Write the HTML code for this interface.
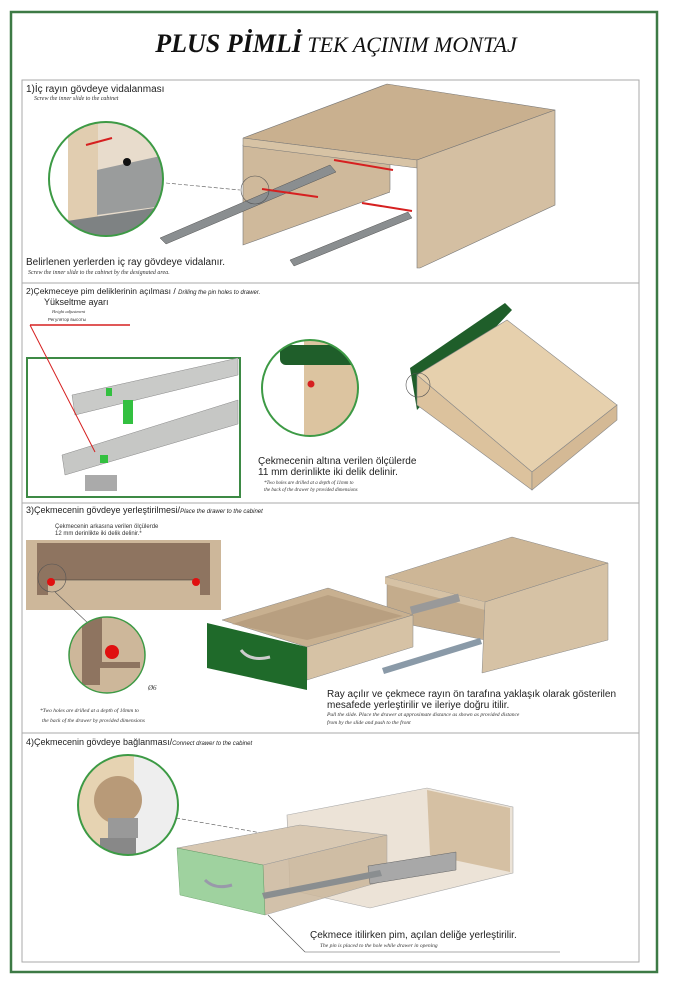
<!DOCTYPE html>
<html><head><meta charset="utf-8"><style>
body{margin:0;background:#fff;}
svg{display:block;font-family:"Liberation Sans",sans-serif;}
.it{font-family:"Liberation Serif",serif;font-style:italic;}
</style></head><body>
<svg width="673" height="1000" viewBox="0 0 673 1000">
<defs><clipPath id="c1"><circle cx="106" cy="179" r="57"/></clipPath>
<clipPath id="c2"><circle cx="310" cy="388" r="48"/></clipPath>
<clipPath id="c3"><circle cx="107" cy="655" r="38"/></clipPath>
<clipPath id="c4"><circle cx="128" cy="805" r="50"/></clipPath></defs>
<rect x="11" y="12" width="646" height="960" fill="none" stroke="#3d7a45" stroke-width="2.5"/>
<text x="336" y="52" text-anchor="middle" font-family="Liberation Serif" font-style="italic" font-size="26" fill="#111"><tspan font-weight="bold">PLUS PİMLİ</tspan><tspan font-size="22"> TEK AÇINIM MONTAJ</tspan></text>
<rect x="22" y="80" width="617" height="882" fill="none" stroke="#aaa" stroke-width="1"/>
<line x1="22" y1="283" x2="639" y2="283" stroke="#aaa"/>
<line x1="22" y1="503" x2="639" y2="503" stroke="#aaa"/>
<line x1="22" y1="733" x2="639" y2="733" stroke="#aaa"/>

<!-- Section 1 -->
<text x="26" y="92" font-size="10" fill="#222">1)İç rayın gövdeye vidalanması</text>
<text x="34" y="100" font-size="6" class="it" fill="#333">Screw the inner slide to the cabinet</text>
<polygon points="243,145 390,95 390,192 243,245" fill="#cfb99b" stroke="#777" stroke-width="0.6"/>
<polygon points="390,190 420,185 420,205 390,200" fill="#fff"/>
<polygon points="243,138 387,84 555,110 417,160" fill="#c9b08f" stroke="#777" stroke-width="0.6"/>
<polygon points="243,138 417,160 417,168 243,146" fill="#d7c3a5" stroke="#777" stroke-width="0.5"/>
<polygon points="417,160 555,110 555,205 420,268 417,268" fill="#d4bfa2" stroke="#777" stroke-width="0.6"/>
<polygon points="160,238 330,165 336,172 166,244" fill="#8a8e90" stroke="#555" stroke-width="0.5"/>
<polygon points="290,260 408,212 412,218 294,266" fill="#8a8e90" stroke="#555" stroke-width="0.5"/>
<line x1="334" y1="160" x2="393" y2="170" stroke="#d62020" stroke-width="2"/>
<line x1="262" y1="189" x2="318" y2="197" stroke="#d62020" stroke-width="2"/>
<line x1="362" y1="203" x2="412" y2="211" stroke="#d62020" stroke-width="2"/>
<circle cx="255" cy="190" r="14" fill="none" stroke="#555" stroke-width="0.6"/>
<line x1="166" y1="183" x2="240" y2="190" stroke="#555" stroke-width="0.6" stroke-dasharray="4,2"/>
<g clip-path="url(#c1)">
<rect x="40" y="115" width="140" height="130" fill="#fff"/>
<rect x="68" y="115" width="30" height="130" fill="#e1cdb0"/>
<rect x="98" y="115" width="80" height="130" fill="#e8dccc"/>
<polygon points="97,170 165,155 170,205 97,215" fill="#9a9c9c"/>
<polygon points="40,225 175,205 175,245 40,245" fill="#7e8283"/>
<circle cx="127" cy="162" r="4" fill="#111"/>
</g>
<circle cx="106" cy="179" r="57" fill="none" stroke="#3d9a45" stroke-width="2"/>
<line x1="86" y1="145" x2="112" y2="138" stroke="#d62020" stroke-width="2"/>
<text x="26" y="265" font-size="10" fill="#222">Belirlenen yerlerden iç ray gövdeye vidalanır.</text>
<text x="28" y="274" font-size="6" class="it" fill="#333">Screw the inner slide to the cabinet by the designated area.</text>

<!-- Section 2 -->
<text x="26" y="294" font-size="8.5" fill="#222">2)Çekmeceye pim deliklerinin açılması / <tspan font-size="6" font-style="italic">Drilling the pin holes to drawer.</tspan></text>
<text x="44" y="305" font-size="9" fill="#222">Yükseltme ayarı</text>
<text x="52" y="313" font-size="4.5" class="it" fill="#333">Height adjustment</text>
<text x="48" y="321" font-size="4.5" fill="#333">Регулятор высоты</text>
<rect x="27" y="358" width="213" height="139" fill="#fff" stroke="#3d8a45" stroke-width="2"/>
<polygon points="72,395 238,358 238,375 75,415" fill="#c9cac8" stroke="#888" stroke-width="0.5"/>
<polygon points="62,455 238,400 238,424 65,475" fill="#c6c7c5" stroke="#888" stroke-width="0.5"/>
<rect x="123" y="400" width="10" height="24" fill="#33c040"/>
<rect x="106" y="388" width="6" height="8" fill="#33c040"/>
<rect x="100" y="455" width="8" height="8" fill="#33c040"/>
<rect x="85" y="475" width="32" height="16" fill="#aaa"/>
<line x1="30" y1="325" x2="130" y2="325" stroke="#d62020" stroke-width="1.5"/>
<line x1="30" y1="325" x2="95" y2="452" stroke="#d62020" stroke-width="1"/>
<g clip-path="url(#c2)">
<rect x="260" y="340" width="100" height="100" fill="#fff"/>
<rect x="304" y="340" width="60" height="100" fill="#dcc4a0"/>
<rect x="280" y="345" width="80" height="20" rx="6" fill="#1f5e2a"/>
</g>
<circle cx="310" cy="388" r="48" fill="none" stroke="#3d9a45" stroke-width="2"/>
<circle cx="311" cy="384" r="3.5" fill="#d62020"/>
<polygon points="410,368 505,303 512,310 417,410" fill="#1f5e2a"/>
<polygon points="417,375 507,320 617,405 532,472" fill="#e6d0ad" stroke="#888" stroke-width="0.6"/>
<polygon points="417,375 532,472 532,490 417,405" fill="#dcc29d" stroke="#888" stroke-width="0.6"/>
<polygon points="532,472 617,405 617,420 532,490" fill="#d4b995" stroke="#888" stroke-width="0.6"/>
<circle cx="418" cy="385" r="12" fill="none" stroke="#555" stroke-width="0.6"/>
<text x="258" y="464" font-size="10" fill="#222">Çekmecenin altına verilen ölçülerde</text>
<text x="258" y="475" font-size="10" fill="#222">11 mm derinlikte iki delik delinir.</text>
<text x="264" y="484" font-size="5" class="it" fill="#333">*Two holes are drilled at a depth of 11mm to</text>
<text x="264" y="491" font-size="5" class="it" fill="#333">the back of the drawer by provided dimensions</text>

<!-- Section 3 -->
<text x="26" y="513" font-size="9" fill="#222">3)Çekmecenin gövdeye yerleştirilmesi/<tspan font-size="6" font-style="italic">Place the drawer to the cabinet</tspan></text>
<text x="55" y="528" font-size="6" fill="#333">Çekmecenin arkasına verilen ölçülerde</text>
<text x="55" y="535" font-size="6" fill="#333">12 mm derinlikte iki delik delinir.*</text>
<rect x="26" y="540" width="195" height="70" fill="#cdb79a"/>
<polygon points="37,543 210,543 210,595 200,595 200,580 48,580 48,595 37,595" fill="#8e7460"/>
<line x1="48" y1="580" x2="200" y2="580" stroke="#333" stroke-width="0.6"/>
<circle cx="51" cy="582" r="4" fill="#e01010"/>
<circle cx="196" cy="582" r="4" fill="#e01010"/>
<circle cx="52" cy="578" r="14" fill="none" stroke="#555" stroke-width="0.6"/>
<line x1="55" y1="592" x2="90" y2="625" stroke="#555" stroke-width="0.6"/>
<g clip-path="url(#c3)">
<rect x="65" y="615" width="85" height="80" fill="#cdb79a"/>
<polygon points="82,615 102,615 102,662 140,662 140,668 100,668 100,685 82,685" fill="#8e7460"/>
</g>
<circle cx="107" cy="655" r="38" fill="none" stroke="#3d9a45" stroke-width="1.5"/>
<circle cx="112" cy="652" r="7" fill="#e01010"/>
<text x="148" y="690" font-size="7" class="it" fill="#333">Ø6</text>
<text x="40" y="712" font-size="5.5" class="it" fill="#333">*Two holes are drilled at a depth of 10mm to</text>
<text x="42" y="722" font-size="5.5" class="it" fill="#333">the back of the drawer by provided dimensions</text>
<polygon points="387,580 485,605 485,640 387,620" fill="#c4ac8c" stroke="#888" stroke-width="0.5"/>
<polygon points="385,577 512,537 608,563 485,602" fill="#cdb696" stroke="#888" stroke-width="0.5"/>
<polygon points="385,577 485,602 485,610 385,584" fill="#d6c2a5"/>
<polygon points="485,602 608,563 608,640 482,673" fill="#d6c2a5" stroke="#888" stroke-width="0.5"/>
<rect x="410" y="600" width="50" height="8" fill="#999" transform="rotate(-15 435 604)"/>
<polygon points="222,620 328,588 413,615 307,647" fill="#c8b090" stroke="#888" stroke-width="0.5"/>
<polygon points="232,624 328,595 403,616 307,640" fill="#b89f80"/>
<polygon points="307,647 413,615 413,647 307,680" fill="#d6c2a5" stroke="#888" stroke-width="0.5"/>
<polygon points="207,623 307,647 307,690 207,668" fill="#1f6a2a"/>
<path d="M241,650 Q250,662 270,657" fill="none" stroke="#ccc" stroke-width="3"/>
<polygon points="382,668 480,638 482,644 384,674" fill="#8a9aa8"/>
<text x="327" y="697" font-size="10" fill="#222">Ray açılır ve çekmece rayın ön tarafına yaklaşık olarak gösterilen</text>
<text x="327" y="708" font-size="10" fill="#222">mesafede yerleştirilir ve ileriye doğru itilir.</text>
<text x="327" y="716" font-size="5.5" class="it" fill="#333">Pull the slide. Place the drawer at approximate distance as shown as provided distance</text>
<text x="327" y="724" font-size="5.5" class="it" fill="#333">from by the slide and push to the front</text>

<!-- Section 4 -->
<text x="26" y="745" font-size="9" fill="#222">4)Çekmecenin gövdeye bağlanması/<tspan font-size="6" font-style="italic">Connect drawer to the cabinet</tspan></text>
<g clip-path="url(#c4)">
<rect x="75" y="752" width="110" height="110" fill="#e6d3b2"/>
<rect x="134" y="752" width="50" height="110" fill="#eee"/>
<circle cx="118" cy="800" r="24" fill="#b89a78"/>
<rect x="108" y="818" width="30" height="20" fill="#999"/>
<rect x="100" y="838" width="36" height="20" fill="#888"/>
</g>
<circle cx="128" cy="805" r="50" fill="none" stroke="#3d9a45" stroke-width="2"/>
<line x1="176" y1="818" x2="330" y2="845" stroke="#555" stroke-width="0.6" stroke-dasharray="4,2"/>
<polygon points="287,815 427,788 513,807 513,873 370,908 290,890" fill="#ece3d7" stroke="#aaa" stroke-width="0.6"/>
<polygon points="427,790 510,808 510,872 430,855" fill="#d5c0a3"/>
<polygon points="177,848 300,825 387,835 263,865" fill="#d8c8b2" stroke="#999" stroke-width="0.5"/>
<polygon points="263,865 387,835 387,880 265,915" fill="#cbb79c" stroke="#999" stroke-width="0.5" opacity="0.85"/>
<polygon points="177,848 263,865 265,915 180,895" fill="#8fcb8f" stroke="#5a9a5a" stroke-width="0.5" opacity="0.85"/>
<path d="M205,880 Q215,890 232,885" fill="none" stroke="#99a" stroke-width="3"/>
<polygon points="368,866 456,852 456,870 370,884" fill="#a8a8a8" stroke="#666" stroke-width="0.5"/>
<polygon points="262,893 380,870 382,876 264,899" fill="#8a8e90"/>
<line x1="268" y1="915" x2="305" y2="952" stroke="#555" stroke-width="0.6"/>
<line x1="305" y1="952" x2="560" y2="952" stroke="#555" stroke-width="0.6"/>
<text x="310" y="938" font-size="10" fill="#222">Çekmece itilirken pim, açılan deliğe yerleştirilir.</text>
<text x="320" y="947" font-size="5.5" class="it" fill="#333">The pin is placed to the hole while drawer in opening</text>
</svg>
</body></html>
